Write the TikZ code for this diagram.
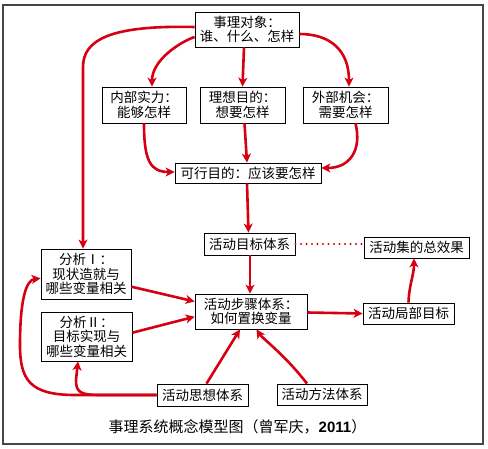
\documentclass[tikz,border=0pt]{standalone}
\usepackage{fontspec}
\newfontfamily\cjk{Noto Sans CJK SC}
\newfontfamily\lsans{Liberation Sans}
\usetikzlibrary{arrows.meta}
\definecolor{arrred}{RGB}{214,0,18}
\definecolor{framegray}{RGB}{70,70,70}
\begin{document}
\begin{tikzpicture}[x=1pt,y=-1pt,
  box/.style={draw=black, line width=0.8pt, fill=white, inner sep=0pt, align=center,
    font=\cjk\fontsize{13.5}{14.5}\selectfont},
  arr/.style={draw=arrred, line width=2.6pt, -{Stealth[length=9pt,width=9pt,inset=2.5pt]}},
  dotline/.style={draw=arrred, line width=2.2pt, line cap=round, dash pattern=on 0pt off 5.5pt},
  caption/.style={font=\cjk\fontsize{15}{17}\selectfont, inner sep=0pt}
]
\useasboundingbox (0,0) rectangle (488,449);
\draw[framegray, line width=1.5pt] (3,5) rectangle (483,444);

% nodes
\node[box, minimum width=104pt, minimum height=35pt] (top) at (247,29.5) {事理对象：\\谁、什么、怎样};
\node[box, minimum width=84pt, minimum height=36pt] (nb) at (144,105) {内部实力：\\能够怎样};
\node[box, minimum width=85pt, minimum height=36pt] (lx) at (242.5,105) {理想目的：\\想要怎样};
\node[box, minimum width=85pt, minimum height=36pt] (wb) at (345.5,105) {外部机会：\\需要怎样};
\node[box, minimum width=146pt, minimum height=20pt] (kx) at (248,173) {可行目的：应该要怎样};
\node[box, minimum width=91pt, minimum height=22pt] (mb) at (249.5,244) {活动目标体系};
\node[box, minimum width=105pt, minimum height=21pt] (zx) at (416.5,247.5) {活动集的总效果};
\node[box, minimum width=90pt, minimum height=50pt] (f1) at (86,274) {分析Ⅰ：\\现状造就与\\哪些变量相关};
\node[box, minimum width=112pt, minimum height=35pt] (bz) at (251,311.5) {活动步骤体系：\\如何置换变量};
\node[box, minimum width=91pt, minimum height=21pt] (jb) at (408.5,313.5) {活动局部目标};
\node[box, minimum width=91pt, minimum height=49pt] (f2) at (86.5,336.5) {分析Ⅱ：\\目标实现与\\哪些变量相关};
\node[box, minimum width=91pt, minimum height=22pt] (sx) at (202.5,395) {活动思想体系};
\node[box, minimum width=90pt, minimum height=21pt] (ff) at (322,394.5) {活动方法体系};
\node[caption] (cap) at (237.5,427) {事理系统概念模型图（曾军庆，{\lsans\bfseries 2011}）};

% connectors
\draw[arr] ([yshift=2.5pt]top.west) .. controls (110,25) and (83,40) .. (83,67) -- ([xshift=-3pt]f1.north);
\draw[arr] ([yshift=-7.5pt]top.west) .. controls (180,42) and (152,60) .. ([xshift=8pt]nb.north);
\draw[arr] ([xshift=-3pt]top.south) -- (lx.north);
\draw[arr] ([yshift=-4.5pt]top.east) .. controls (330,34) and (349,50) .. ([xshift=3.5pt]wb.north);
\draw[arr] (nb.south) .. controls (144,160) and (150,172) .. ([yshift=1pt]kx.west);
\draw[arr] ([xshift=2pt]lx.south) -- ([xshift=-1pt]kx.north);
\draw[arr] ([xshift=10pt]wb.south) .. controls (362,150) and (350,168) .. ([yshift=5pt]kx.east);
\draw[arr] ([xshift=-1pt]kx.south) -- ([xshift=-1pt]mb.north);
\draw[arr] ([xshift=0.5pt]mb.south) -- ([xshift=-1pt]bz.north);
\draw[dotline] (mb.east) -- (mb.east -| zx.west);
\draw[arr] ([yshift=-12.7pt]f1.east) -- ([yshift=10pt]bz.west);
\draw[arr] ([yshift=3.8pt]f2.east) -- ([yshift=-5.2pt]bz.west);
\draw[arr] ([yshift=-1pt]bz.east) -- (jb.west);
\draw[arr] (jb.north) .. controls (409,285) and (414,275) .. ([xshift=-2.5pt]zx.south);
\draw[arr] ([xshift=4pt]sx.north) -- ([xshift=-11pt]bz.south);
\draw[arr] ([xshift=-15pt]ff.north) .. controls (285,355) and (262,338) .. ([xshift=5.5pt]bz.south);
\draw[arr] (sx.west) -- (75,395) .. controls (30,395) and (20,380) .. (20,345)
   .. controls (20,300) and (26,280) .. ([yshift=-4.3pt]f1.west);
\draw[arr] (sx.west) -- (100,395) .. controls (80,395) and (76,392) .. (76,380) -- ([xshift=-8.5pt]f2.south);
\end{tikzpicture}
\end{document}
